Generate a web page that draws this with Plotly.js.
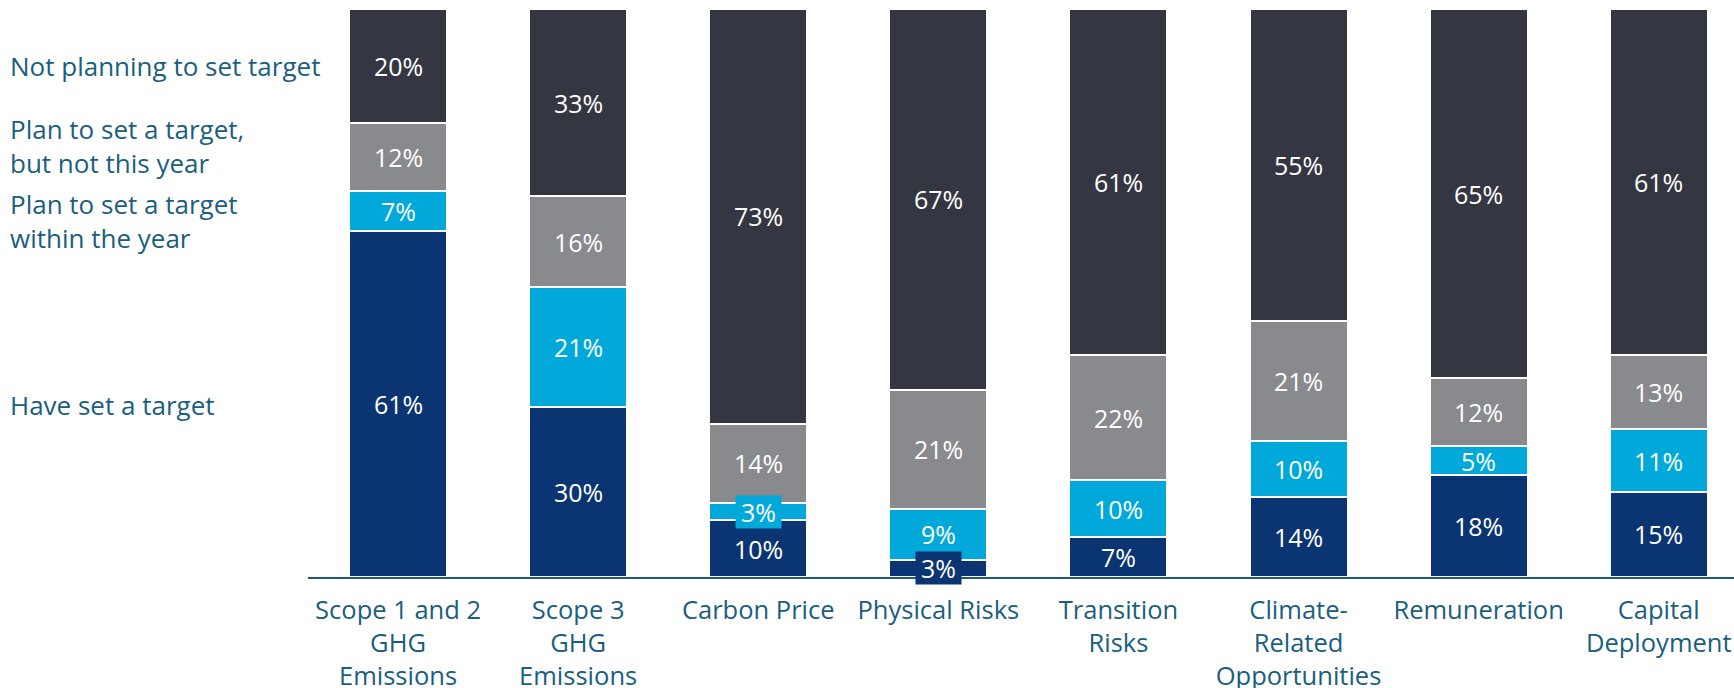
<!DOCTYPE html>
<html>
<head>
<meta charset="utf-8">
<script src="https://cdn.plot.ly/plotly-3.0.1.min.js"></script>
<style>
html,body{margin:0;padding:0;background:#fff;overflow:hidden;}
#chart{width:1734px;height:688px;}
</style>
</head>
<body>
<div id="chart"></div>
<script>
const categories = [
  "Scope 1 and 2<br>GHG<br>Emissions",
  "Scope 3<br>GHG<br>Emissions",
  "Carbon Price",
  "Physical Risks",
  "Transition<br>Risks",
  "Climate-<br>Related<br>Opportunities",
  "Remuneration",
  "Capital<br>Deployment"
];
const haveSet      = [61, 30, 10, 3, 7, 14, 18, 15];
const withinYear   = [7, 21, 3, 9, 10, 10, 5, 11];
const notThisYear  = [12, 16, 14, 21, 22, 21, 12, 13];
const notPlanning  = [20, 33, 73, 67, 61, 55, 65, 61];
const seriesNames = [
  "Have set a target",
  "Plan to set a target<br>within the year",
  "Plan to set a target,<br>but not this year",
  "Not planning to set target"
];
const seriesColors = ["#0b3572", "#00a9d9", "#888a8e", "#343742"];
const seriesData = [haveSet, withinYear, notThisYear, notPlanning];
const legendY = [0.303, 0.627, 0.759, 0.900];

const FONT = "Open Sans, Noto Sans, sans-serif";
const TEXT_COLOR = "#1a5e80";

const xIdx = categories.map((_, i) => i);
const traces = seriesData.map((vals, s) => ({
  type: "bar",
  x: xIdx,
  y: vals,
  name: seriesNames[s],
  marker: {color: seriesColors[s], line: {color: "#ffffff", width: 2}},
  hoverinfo: "skip"
}));

const annotations = [];
for (let i = 0; i < categories.length; i++) {
  let base = 0;
  for (let s = 0; s < seriesData.length; s++) {
    const v = seriesData[s][i];
    const small = v <= 3;
    const a = {
      x: i, y: base + v / 2, xref: "x", yref: "y",
      text: v + "%", showarrow: false,
      font: {family: FONT, size: 25, color: "#ffffff"}
    };
    if (small) {
      a.bgcolor = seriesColors[s];
      a.width = 41; a.height = 28; a.borderpad = 2;
    }
    annotations.push(a);
    base += v;
  }
}
seriesNames.forEach((n, s) => {
  annotations.push({
    x: 0, xref: "paper", xshift: -300, xanchor: "left",
    y: legendY[s], yref: "paper", yanchor: "middle",
    text: n, align: "left", showarrow: false,
    font: {family: FONT, size: 26, color: TEXT_COLOR}
  });
});

const layout = {
  width: 1734, height: 688,
  margin: {l: 308, r: 0, t: 9, b: 111},
  barmode: "stack",
  bargap: 0.456,
  showlegend: false,
  paper_bgcolor: "#ffffff",
  plot_bgcolor: "#ffffff",
  font: {family: FONT, size: 26, color: TEXT_COLOR},
  xaxis: {
    range: [-0.5, 7.418],
    tickmode: "array",
    tickvals: xIdx,
    ticktext: categories,
    showgrid: false, zeroline: false,
    showline: true, linecolor: "#1b5a7a", linewidth: 2,
    ticks: "",
    ticklabelstandoff: 9,
    tickfont: {family: FONT, size: 25.5, color: TEXT_COLOR},
    fixedrange: true
  },
  yaxis: {
    range: [0, 100],
    showgrid: false, zeroline: false, showline: false,
    showticklabels: false, ticks: "",
    fixedrange: true
  },
  annotations: annotations
};

Plotly.newPlot("chart", traces, layout, {displayModeBar: false, staticPlot: true});
</script>
</body>
</html>
